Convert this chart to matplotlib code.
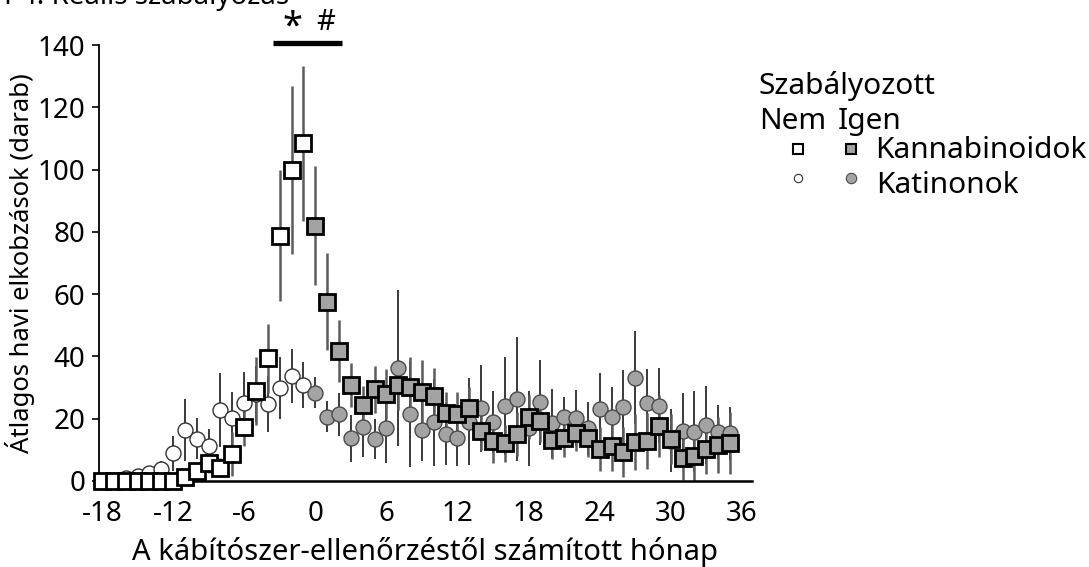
import numpy as np
import matplotlib
matplotlib.use("Agg")
import matplotlib.pyplot as plt
from matplotlib.lines import Line2D

plt.rcParams['font.family'] = ['Noto Sans', 'DejaVu Sans']
plt.rcParams['axes.unicode_minus'] = False

# months relative to the drug control (Nem = before, Igen = after)
months_nem = np.arange(-18, 0)
months_igen = np.arange(0, 36)

# Kannabinoidok (squares)
kanna_nem = [0, 0, 0, 0, 0, 0, 0, 1.4, 3.3, 5.7, 4.3, 8.7, 17.2, 28.9, 39.4, 78.8, 99.9, 108.4]
kanna_nem_err = [0.3, 0.3, 0.3, 0.3, 0.3, 0.3, 0.3, 1, 2, 3, 3, 7, 6, 11, 11, 21, 27, 25]
kanna_igen = [82, 57.6, 41.8, 30.8, 24.4, 29.4, 27.9, 30.8, 30.3, 28.7, 27.4, 21.7,
              21.5, 23.3, 16.1, 12.9, 12.1, 15.1, 20.5, 19.4, 13.2, 13.7, 15.5, 13.7,
              10.2, 11.2, 9.4, 12.6, 12.8, 17.7, 13.4, 7.3, 8.0, 10.2, 11.6, 12.3]
kanna_igen_err = [19, 15.6, 10, 7, 6, 7.5, 8, 8, 9.6, 10, 9, 7, 7, 7, 6, 7, 6, 7,
                  7, 7, 6, 6, 6, 6, 7, 8, 8, 9, 9, 10, 8, 7, 8, 8, 9, 10]

# Katinonok (circles)
katin_nem = [0, 0.3, 0.8, 1.6, 2.5, 3.8, 8.9, 16.4, 13.5, 11.2, 22.8, 20.1, 24.9, 28, 24.7, 29.8, 33.7, 30.8]
katin_nem_err = [0.3, 0.5, 0.8, 1, 1.5, 2.5, 5.6, 10, 6.6, 5.4, 12, 8.6, 10, 9, 9, 10, 8.6, 7.5]
katin_igen = [28.4, 20.6, 21.4, 13.7, 17.4, 13.4, 16.9, 36.2, 21.4, 16.4, 18.8, 15.0,
              13.7, 19.0, 23.3, 19.0, 24.2, 26.3, 16.9, 25.3, 18.5, 20.6, 20.1, 16.9,
              23.1, 20.6, 23.7, 33.2, 24.9, 24.2, 13, 16.1, 15.8, 18.0, 15.8, 15.3]
katin_igen_err = [5, 5, 7, 7.5, 9.6, 6.4, 11, 25, 17, 10, 14, 10, 9, 14, 14, 10, 15.7, 20,
                  12, 13.6, 11, 6.5, 9, 8.6, 11.5, 9.5, 12, 15, 11, 12, 10, 12, 13, 12.5, 8.6, 8.6]

xticks = [-18, -12, -6, 0, 6, 12, 18, 24, 30, 36]
yticks = [0, 20, 40, 60, 80, 100, 120, 140]

gray = '#a3a3a3'

fig = plt.figure(figsize=(10.89, 5.67), dpi=100)
ax = fig.add_axes([0.0909, 0.1517, 0.5996, 0.7689])

# error bars first, markers on top
for x, y, e in [(months_nem, katin_nem, katin_nem_err), (months_igen, katin_igen, katin_igen_err)]:
    ax.errorbar(x, y, yerr=e, fmt='none', ecolor='#3a3a3a', elinewidth=1.4, capsize=0,
                zorder=2, clip_on=False)
for x, y, e in [(months_nem, kanna_nem, kanna_nem_err), (months_igen, kanna_igen, kanna_igen_err)]:
    ax.errorbar(x, y, yerr=e, fmt='none', ecolor='#5c5c5c', elinewidth=1.8, capsize=0,
                zorder=2, clip_on=False)

ax.plot(months_nem, katin_nem, 'o', ms=10.8, mfc='white', mec='#333333', mew=1.0,
        zorder=3, clip_on=False)
ax.plot(months_igen, katin_igen, 'o', ms=10.8, mfc=gray, mec='#4a4a4a', mew=1.0,
        zorder=3, clip_on=False)
ax.plot(months_nem, kanna_nem, 's', ms=11.5, mfc='white', mec='black', mew=2.0,
        zorder=4, clip_on=False)
ax.plot(months_igen, kanna_igen, 's', ms=11.5, mfc=gray, mec='black', mew=2.0,
        zorder=4, clip_on=False)

ax.set_xlim(-18.25, 36.85)
ax.set_ylim(0, 140)
ax.set_xticks(xticks)
ax.set_xticklabels([str(t) for t in xticks])
ax.set_yticks(yticks)
ax.tick_params(axis='x', length=0, pad=14, labelsize=20)
ax.tick_params(axis='y', length=5, width=1.2, pad=5, labelsize=20)
for side in ['top', 'right']:
    ax.spines[side].set_visible(False)
ax.spines['left'].set_linewidth(1.3)
ax.spines['bottom'].set_linewidth(1.8)

ax.set_xlabel('A kábítószer-ellenőrzéstől számított hónap', fontsize=21, labelpad=6)
ax.set_ylabel('Átlagos havi elkobzások (darab)', fontsize=18.5, labelpad=2)

# significance bar above the peak
ax.plot([-3.6, 2.25], [140.6, 140.6], color='black', lw=3.8, solid_capstyle='butt',
        clip_on=False)
ax.text(-1.9, 145.5, '*', fontsize=26, fontweight='bold', ha='center', va='center')
ax.text(0.9, 147.2, '#', fontsize=21, ha='center', va='center')

# title (cut at the top edge of the image, as in the source)
fig.text(0.004, 1 - 4 / 567, 'P4. Reális szabályozás', fontsize=20, fontweight='bold',
         va='baseline', ha='left')

# legend drawn by hand
def fx(px):
    return px / 1089

def fy(py):
    return 1 - py / 567

fig.text(fx(759), fy(94), 'Szabályozott', fontsize=21.5, va='baseline')
fig.text(fx(759), fy(129), 'Nem', fontsize=21.5, va='baseline')
fig.text(fx(838), fy(129), 'Igen', fontsize=21.5, va='baseline')
fig.text(fx(875), fy(158), 'Kannabinoidok', fontsize=21.5, va='baseline')
fig.text(fx(876), fy(193), 'Katinonok', fontsize=21.5, va='baseline')
fig.add_artist(Line2D([fx(798)], [fy(149)], marker='s', ms=7.5, mfc='white', mec='black',
                      mew=1.5, transform=fig.transFigure))
fig.add_artist(Line2D([fx(851)], [fy(148.5)], marker='s', ms=7.5, mfc=gray, mec='black',
                      mew=1.5, transform=fig.transFigure))
fig.add_artist(Line2D([fx(798)], [fy(178)], marker='o', ms=6, mfc='white', mec='#333333',
                      mew=0.8, transform=fig.transFigure))
fig.add_artist(Line2D([fx(851)], [fy(178)], marker='o', ms=7.5, mfc=gray, mec='#4a4a4a',
                      mew=0.8, transform=fig.transFigure))

fig.savefig('out.png', dpi=100)
